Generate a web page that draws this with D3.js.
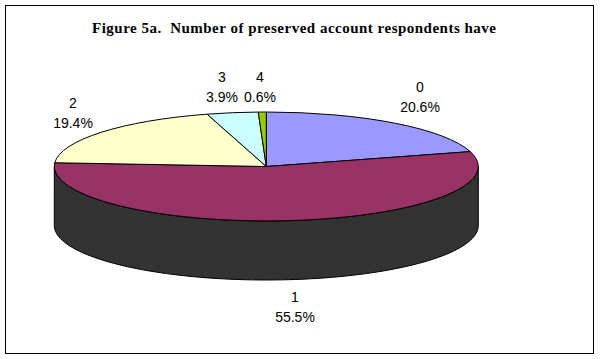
<!DOCTYPE html>
<html><head><meta charset="utf-8">
<script src="https://cdn.jsdelivr.net/npm/d3@7"></script>
<style>html,body{margin:0;padding:0;background:#fff}svg{display:block}</style>
</head><body><div id="c"></div>
<script>
const categories=["0","1","2","3","4"];
const shares=[20.6,55.5,19.4,3.9,0.6];
const sliceColors=["#9999FF","#993366","#FFFFCC","#CCFFFF","#99CC00"];
const wallColor="#333333";
const titleText="Figure 5a.  Number of preserved account respondents have";
const labelAnchors=[[420,92],[295,301.5],[73,108],[222,82],[260,82]];

const W=600,H=359,cx=266.3,cy=166.5,rx=212,ry=54.5,depth=59;
const svg=d3.select("#c").append("svg").attr("width",W).attr("height",H).style("font-family","'Liberation Sans',Arial,sans-serif");
svg.append("rect").attr("x",5.5).attr("y",5.5).attr("width",588).attr("height",348).attr("fill","#fff").attr("stroke","#000");

svg.append("text").attr("x",294).attr("y",32.5).attr("text-anchor","middle")
  .attr("textLength",404).attr("lengthAdjust","spacing")
  .style("font-family","'Liberation Serif','Times New Roman',serif").style("font-weight","bold").style("font-size","15px").style("white-space","pre")
  .attr("xml:space","preserve").text(titleText);

const pie=d3.pie().sort(null).value(d=>d);
const arcs=pie(shares);
// Unit pie, projected to a tilted ellipse by the group transform
const arc=d3.arc().innerRadius(0).outerRadius(1);
const X=d3.scaleLinear().domain([-1,1]).range([cx-rx,cx+rx]);
const Y=d3.scaleLinear().domain([-1,1]).range([cy-ry,cy+ry]);

// Side wall: the front half of the rim, extruded
const wall=d3.path();
wall.moveTo(X(1),Y(0));
wall.lineTo(X(1),Y(0)+depth);
const steps=d3.range(0,181,2).map(a=>a*Math.PI/180);
steps.forEach(a=>wall.lineTo(X(Math.cos(a)),Y(Math.sin(a))+depth));
steps.slice().reverse().forEach(a=>wall.lineTo(X(Math.cos(a)),Y(Math.sin(a))));
wall.closePath();
svg.append("path").attr("d",wall.toString()).attr("fill",wallColor).attr("stroke","#000").attr("stroke-width",1);

svg.append("g").attr("transform",`translate(${cx},${cy}) scale(${rx},${ry})`)
  .selectAll("path").data(arcs).join("path")
  .attr("d",arc).attr("fill",(d,i)=>sliceColors[i])
  .attr("stroke","#000").attr("stroke-width",1).attr("vector-effect","non-scaling-stroke");

const labels=svg.append("g").attr("font-size",14).attr("text-anchor","middle").attr("fill","#000");
categories.forEach((c,i)=>{
  const [x,y]=labelAnchors[i];
  labels.append("text").attr("x",x).attr("y",y).text(c);
  labels.append("text").attr("x",x).attr("y",y+20).text(shares[i].toFixed(1)+"%");
});
</script></body></html>
